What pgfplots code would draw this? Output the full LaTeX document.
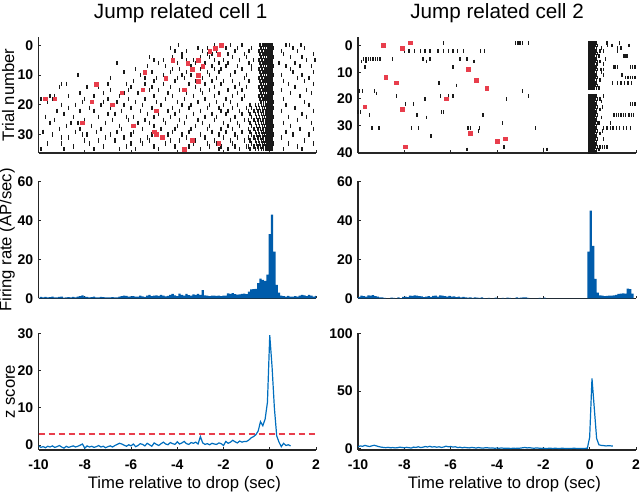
\documentclass[border=0pt]{standalone}
\usepackage{pgfplots}
\pgfplotsset{compat=1.18}
\usepackage{pgfplotstable}
\usepackage{fontspec}
\setmainfont{Liberation Sans}
\definecolor{histblue}{RGB}{0,92,171}
\definecolor{lineblue}{RGB}{0,110,190}
\definecolor{redsq}{RGB}{232,62,76}
\definecolor{spike}{RGB}{25,25,25}

\pgfplotsset{
 base/.style={scale only axis, anchor=south west, axis lines*=left, tick align=inside,
   major tick length=2.2pt, axis line style={line width=0.8pt, black!85},
   tick style={line width=0.7pt, black!85},
   tick label style={font=\fontsize{10.5}{12}\selectfont\bfseries},
   /pgf/number format/assume math mode=true,
   xmin=-10, xmax=2, xtick={-10,-8,...,2}, scaled ticks=false,
   x tick label style={yshift=-3.5pt}, y tick label style={xshift=-0.5pt}},
 leftcol/.style={base, at={(28.9pt,#1)}, width=208.1pt},
 rightcol/.style={base, at={(268.5pt,#1)}, width=208.5pt},
 spk/.style={only marks, mark=|, mark size=#1, color=spike, mark options={line width=1.05pt}},
 redm/.style={only marks, mark=square*, mark size=1.35pt, color=redsq},
}

% ---------- cell 1 raster: scattered spikes (one row per trial) ----------
\pgfplotstableread{
trial s1 s2 s3 s4 s5 s6 s7 s8 s9 s10 s11 s12 s13
0  -3.95 -2.4 -1.7 -1.2 0.7 0.85 1.35 nan nan nan nan nan nan
1  -4.3 -3.1 -2.7 -1.9 -1.4 -0.8 1.0 1.5 nan nan nan nan nan
2  -4.1 -3.6 -2.9 -2.3 -1.5 -0.9 0.5 1.2 nan nan nan nan nan
3  -3.8 -2.7 -2.5 -1.8 -1.1 0.6 1.9 nan nan nan nan nan nan
4  -5.2 -4.2 -3.8 -3.0 -2.6 -1.6 -1.0 0.9 1.4 nan nan nan nan
5  -5.0 -4.6 -3.6 -3.3 -2.4 -2.0 -1.3 -0.7 1.6 1.95 nan nan nan
6  -6.6 -4.8 -4.0 -3.2 -2.8 -2.2 -1.8 -0.9 0.4 1.1 nan nan nan
7  -5.3 -4.5 -3.4 -2.5 -1.9 -1.4 -0.8 0.7 1.3 1.8 nan nan nan
8  -5.8 -4.2 -3.9 -3.0 -2.4 -2.1 -1.2 -0.8 0.9 nan nan nan nan
9  -6.3 -5.1 -4.3 -3.6 -2.7 -2.2 -1.5 1.0 1.9 nan nan nan nan
10 -8.3 -5.6 -4.6 -3.8 -3.4 -2.6 -1.7 -1.0 0.5 1.4 nan nan nan
11 -6.9 -5.4 -4.9 -4.0 -3.7 -2.9 -2.3 -1.1 1.2 1.7 nan nan nan
12 -5.9 -5.0 -4.1 -3.2 -2.5 -2.0 -1.6 -0.9 0.6 1.5 nan nan nan
13 -9.0 -8.8 -7.0 -6.2 -5.4 -4.6 -3.5 -2.8 -2.1 -1.3 0.8 1.9 nan
14 -9.1 -7.9 -7.4 -6.0 -5.1 -4.3 -3.2 -2.4 -1.5 -1.0 1.1 nan nan
15 -6.9 -6.1 -5.2 -4.8 -3.9 -3.0 -2.6 -1.8 -1.2 0.5 1.6 nan nan
16 -8.2 -7.2 -6.3 -5.7 -4.4 -3.6 -2.9 -2.2 -1.4 0.9 1.8 nan nan
17 -9.5 -9.3 -8.7 -7.6 -6.5 -5.0 -4.2 -3.3 -2.4 -1.6 -1.1 1.3 nan
18 -9.9 -9.4 -8.0 -7.0 -6.1 -5.4 -4.5 -3.7 -2.8 -1.9 -1.2 0.6 nan
19 -9.6 -8.1 -7.2 -6.6 -5.8 -4.9 -4.0 -3.1 -2.3 -1.7 1.5 nan nan
20 -9.0 -8.4 -7.3 -6.3 -5.5 -4.7 -3.8 -3.4 -2.6 -2.0 -1.4 0.7 1.7
21 -8.7 -7.8 -6.9 -6.0 -5.1 -4.2 -3.5 -2.7 -2.2 -1.6 -1.0 1.1 nan
22 -9.2 -8.2 -7.6 -6.4 -5.6 -4.4 -3.9 -3.0 -2.1 -1.8 -1.3 0.5 1.9
23 -8.9 -7.0 -6.7 -5.3 -4.8 -4.1 -3.3 -2.5 -1.9 -1.2 1.4 nan nan
24 -9.7 -8.5 -7.4 -6.2 -5.9 -5.0 -4.3 -3.6 -2.8 -2.3 -1.5 0.8 1.6
25 -9.3 -8.0 -6.8 -6.1 -5.4 -4.6 -3.9 -3.1 -2.4 -1.7 -1.1 1.2 nan
26 -9.5 -8.6 -8.3 -7.1 -5.7 -5.2 -4.5 -3.7 -2.9 -2.0 -1.4 0.6 1.8
27 -8.8 -7.7 -6.5 -5.8 -5.0 -4.0 -3.2 -2.6 -1.8 -1.3 0.9 nan nan
28 -9.1 -8.2 -7.3 -6.4 -5.5 -4.7 -4.1 -3.4 -2.7 -2.1 -1.6 1.3 1.9
29 -9.8 -8.4 -7.5 -6.6 -5.9 -4.9 -4.2 -3.5 -2.5 -1.9 -1.2 0.7 nan
30 -9.4 -8.1 -7.9 -6.9 -6.0 -5.1 -4.4 -3.8 -3.0 -2.2 -1.5 1.0 1.7
31 -9.0 -8.7 -7.1 -6.3 -5.3 -4.6 -3.6 -2.8 -2.0 -1.4 0.5 nan nan
32 -8.0 -7.4 -6.7 -5.6 -5.2 -4.3 -3.9 -3.2 -2.4 -1.7 -1.1 1.5 nan
33 -9.6 -9.0 -7.8 -6.0 -5.5 -4.5 -3.3 -2.7 -2.3 -1.6 0.8 1.9 nan
34 -8.5 -7.2 -6.2 -5.0 -4.1 -3.5 -2.6 -2.1 -1.5 -1.0 1.2 nan nan
35 -9.9 -8.9 -7.6 -6.5 -5.8 -4.8 -3.7 -3.0 -2.2 -1.8 -1.3 0.6 1.4
}\rastA

% ---------- cell 1 raster: dense band around the drop ----------
\pgfplotstableread{
trial b1 b2 b3 b4 b5 b6 b7 b8 b9 b10 b11
0  -0.42 -0.30 -0.21 -0.14 -0.08 -0.03 0.02 0.07 0.13 nan nan
1  -0.38 -0.27 -0.18 -0.11 -0.06 -0.01 0.04 0.09 0.16 nan nan
2  -0.47 -0.33 -0.24 -0.16 -0.10 -0.04 0.01 0.06 0.11 nan nan
3  -0.42 -0.30 -0.21 -0.14 -0.08 -0.03 0.02 0.07 0.13 nan nan
4  -0.38 -0.27 -0.18 -0.11 -0.06 -0.01 0.04 0.09 0.16 nan nan
5  -0.47 -0.33 -0.24 -0.16 -0.10 -0.04 0.01 0.06 0.11 nan nan
6  -0.42 -0.30 -0.21 -0.14 -0.08 -0.03 0.02 0.07 0.13 nan nan
7  -0.38 -0.27 -0.18 -0.11 -0.06 -0.01 0.04 0.09 0.16 nan nan
8  -0.47 -0.33 -0.24 -0.16 -0.10 -0.04 0.01 0.06 0.11 nan nan
9  -0.42 -0.30 -0.21 -0.14 -0.08 -0.03 0.02 0.07 0.13 nan nan
10 -0.38 -0.27 -0.18 -0.11 -0.06 -0.01 0.04 0.09 0.16 nan nan
11 -0.47 -0.33 -0.24 -0.16 -0.10 -0.04 0.01 0.06 0.11 nan nan
12 -0.42 -0.30 -0.21 -0.14 -0.08 -0.03 0.02 0.07 0.13 nan nan
13 -0.38 -0.27 -0.18 -0.11 -0.06 -0.01 0.04 0.09 0.16 nan nan
14 -0.47 -0.33 -0.24 -0.16 -0.10 -0.04 0.01 0.06 0.11 nan nan
15 -0.42 -0.30 -0.21 -0.14 -0.08 -0.03 0.02 0.07 0.13 nan nan
16 -0.38 -0.27 -0.18 -0.11 -0.06 -0.01 0.04 0.09 0.16 nan nan
17 -0.47 -0.33 -0.24 -0.16 -0.10 -0.04 0.01 0.06 0.11 nan nan
18 -0.42 -0.30 -0.21 -0.14 -0.08 -0.03 0.02 0.07 0.13 nan nan
19 -0.38 -0.27 -0.18 -0.11 -0.06 -0.01 0.04 0.09 0.16 nan nan
20 -0.85 -0.62 -0.48 -0.36 -0.26 -0.17 -0.10 -0.04 0.02 0.07 0.13
21 -0.78 -0.57 -0.44 -0.32 -0.22 -0.14 -0.07 -0.01 0.04 0.09 0.15
22 -0.92 -0.68 -0.51 -0.39 -0.29 -0.19 -0.12 -0.06 0.00 0.05 0.11
23 -0.85 -0.62 -0.48 -0.36 -0.26 -0.17 -0.10 -0.04 0.02 0.07 0.13
24 -0.78 -0.57 -0.44 -0.32 -0.22 -0.14 -0.07 -0.01 0.04 0.09 0.15
25 -0.92 -0.68 -0.51 -0.39 -0.29 -0.19 -0.12 -0.06 0.00 0.05 0.11
26 -0.85 -0.62 -0.48 -0.36 -0.26 -0.17 -0.10 -0.04 0.02 0.07 0.13
27 -0.78 -0.57 -0.44 -0.32 -0.22 -0.14 -0.07 -0.01 0.04 0.09 0.15
28 -0.92 -0.68 -0.51 -0.39 -0.29 -0.19 -0.12 -0.06 0.00 0.05 0.11
29 -0.85 -0.62 -0.48 -0.36 -0.26 -0.17 -0.10 -0.04 0.02 0.07 0.13
30 -0.78 -0.57 -0.44 -0.32 -0.22 -0.14 -0.07 -0.01 0.04 0.09 0.15
31 -0.92 -0.68 -0.51 -0.39 -0.29 -0.19 -0.12 -0.06 0.00 0.05 0.11
32 -0.85 -0.62 -0.48 -0.36 -0.26 -0.17 -0.10 -0.04 0.02 0.07 0.13
33 -0.78 -0.57 -0.44 -0.32 -0.22 -0.14 -0.07 -0.01 0.04 0.09 0.15
34 -0.92 -0.68 -0.51 -0.39 -0.29 -0.19 -0.12 -0.06 0.00 0.05 0.11
35 -0.85 -0.62 -0.48 -0.36 -0.26 -0.17 -0.10 -0.04 0.02 0.07 0.13
}\bandA

\pgfplotstableread{
t trial
-2.1 0
-2.35 1
-2.6 2
-2.2 3
-4.2 5
-3.1 5
-3.55 6
-2.9 7
-3.35 8
-5.4 9
-3.1 10
-4.5 11
-3.1 12
-7.5 13
-3.7 15
-5.5 15
-6.4 16
-9.7 18
-9.3 18
-7.7 19
-6.8 20
-4.9 22
-8.1 26
-5.9 27
-5.0 29
-4.9 30
-4.65 31
-3.35 32
-2.2 33
-3.7 35
}\redA

% ---------- cell 2 raster ----------
\pgfplotstableread{
t trial
-6.3 -1
-3.2 -1
-3.1 -1
-3.0 -1
-2.9 -1
-2.65 -1
0.75 -1
1.3 -1
0.78 0
0.97 0
1.7 0
0.5 1
1.19 1
1.36 1
-8.0 2
-7.8 2
-7.55 2
-7.3 2
-7.1 2
-6.9 2
-6.55 2
-6.3 2
-6.1 2
-5.9 2
-5.7 2
-5.45 2
-4.7 2
-4.55 2
0.45 2
0.6 2
1.2 2
0.4 4
1.46 4
1.52 4
1.58 4
1.62 4
-9.75 5
-9.65 5
-9.55 5
-9.45 5
-9.35 5
-9.25 5
-9.15 5
-9.05 5
-8.5 5
-7.2 5
-6.9 5
-5.6 5
-5.3 5
0.68 5
-9.85 6
-9.65 6
-7.05 6
-5.0 6
0.45 6
0.35 7
0.6 7
-9.7 8
-5.9 8
1.03 8
1.1 8
1.2 8
1.76 8
1.85 8
1.95 8
0.46 9
0.52 9
0.59 9
0.5 10
0.6 11
1.4 11
1.55 12
1.65 12
1.75 12
1.85 12
1.95 12
0.45 13
-6.5 14
0.99 14
1.2 14
1.35 14
1.5 14
1.65 14
1.8 14
-5.75 15
0.4 16
-9.95 17
-9.8 17
-9.3 17
-2.9 17
-9.2 18
-8.35 19
-6.45 19
-6.1 19
-5.9 19
-2.65 19
0.6 19
-7.1 20
-3.6 20
0.45 20
0.5 21
-7.95 22
-7.6 22
1.76 22
1.85 22
1.95 22
0.55 23
0.45 24
-10.0 25
-9.9 25
-6.4 25
-6.3 25
-9.5 26
-7.45 26
-4.6 26
1.05 26
1.15 26
1.25 26
1.35 26
1.45 26
1.55 26
1.7 26
1.8 26
1.9 26
-7.05 27
0.5 27
-3.75 29
0.4 29
0.9 29
-9.4 31
-9.1 31
-7.7 31
-7.4 31
-5.25 31
-5.15 31
-4.75 31
-2.35 31
0.6 31
0.75 31
0.9 31
1.0 31
1.15 31
1.3 31
1.45 31
1.6 31
1.75 31
-4.8 32
0.55 32
0.45 33
-6.85 34
0.6 35
-3.7 38
0.35 38
0.45 38
0.55 38
0.65 38
0.75 38
-5.3 39
-2.0 39
-1.85 39
0.4 39
}\rastB

\pgfplotstableread{
trial b1 b2 b3 b4 b5 b6 b7 b8
-1 -0.05 -0.01 0.03 0.06 0.10 0.14 0.19 0.27
0  -0.03 0.01 0.04 0.08 0.12 0.17 0.23 0.33
1  -0.06 -0.02 0.02 0.05 0.09 0.15 0.21 0.30
2  -0.05 -0.01 0.03 0.06 0.10 0.14 0.19 0.27
3  -0.03 0.01 0.04 0.08 0.12 0.17 0.23 0.33
4  -0.06 -0.02 0.02 0.05 0.09 0.15 0.21 0.30
5  -0.05 -0.01 0.03 0.06 0.10 0.14 0.19 0.27
6  -0.03 0.01 0.04 0.08 0.12 0.17 0.23 0.33
7  -0.06 -0.02 0.02 0.05 0.09 0.15 0.21 0.30
8  -0.05 -0.01 0.03 0.06 0.10 0.14 0.19 0.27
9  -0.03 0.01 0.04 0.08 0.12 0.17 0.23 0.33
10 -0.06 -0.02 0.02 0.05 0.09 0.15 0.21 0.30
11 -0.05 -0.01 0.03 0.06 0.10 0.14 0.19 0.27
12 -0.03 0.01 0.04 0.08 0.12 0.17 0.23 0.33
13 -0.06 -0.02 0.02 0.05 0.09 0.15 0.21 0.30
14 -0.05 -0.01 0.03 0.06 0.10 0.14 0.19 0.27
15 -0.03 0.01 0.04 0.08 0.12 0.17 0.23 0.33
16 -0.06 -0.02 0.02 0.05 0.09 0.15 0.21 0.30
19 -0.05 -0.01 0.03 0.06 0.10 0.14 0.19 0.27
20 -0.03 0.01 0.04 0.08 0.12 0.17 0.23 0.33
21 -0.06 -0.02 0.02 0.05 0.09 0.15 0.21 0.30
22 -0.05 -0.01 0.03 0.06 0.10 0.14 0.19 0.27
23 -0.03 0.01 0.04 0.08 0.12 0.17 0.23 0.33
24 -0.06 -0.02 0.02 0.05 0.09 0.15 0.21 0.30
25 -0.05 -0.01 0.03 0.06 0.10 0.14 0.19 0.27
26 -0.03 0.01 0.04 0.08 0.12 0.17 0.23 0.33
27 -0.06 -0.02 0.02 0.05 0.09 0.15 0.21 0.30
28 -0.05 -0.01 0.03 0.06 0.10 0.14 0.19 0.27
29 -0.03 0.01 0.04 0.08 0.12 0.17 0.23 0.33
30 -0.06 -0.02 0.02 0.05 0.09 0.15 0.21 0.30
31 -0.05 -0.01 0.03 0.06 0.10 0.14 0.19 0.27
32 -0.03 0.01 0.04 0.08 0.12 0.17 0.23 0.33
33 -0.06 -0.02 0.02 0.05 0.09 0.15 0.21 0.30
34 -0.05 -0.01 0.03 0.06 0.10 0.14 0.19 0.27
35 -0.03 0.01 0.04 0.08 0.12 0.17 0.23 0.33
36 -0.06 -0.02 0.02 0.05 0.09 0.15 0.21 0.30
37 -0.05 -0.01 0.03 0.06 0.10 0.14 0.19 0.27
38 -0.03 0.01 0.04 0.08 0.12 0.17 0.23 0.33
39 -0.06 -0.02 0.02 0.05 0.09 0.15 0.21 0.30
40 -0.05 -0.01 0.03 0.06 0.10 0.14 0.19 0.27
}\bandB

\pgfplotstableread{
t trial
-8.9 0
-7.75 -1
-8.1 1
-8.8 12
-8.35 14
-5.25 9
-4.9 13
-4.45 16
-6.2 20
-9.7 23
-8.1 24
-5.15 33
-3.65 35
-4.0 36
-7.95 38
}\redB

\begin{document}
\begin{tikzpicture}
% ===== row 1: rasters =====
\begin{axis}[leftcol=256.5pt, height=87pt, ymin=-36.2, ymax=2.8,
  ytick={0,-10,-20,-30}, yticklabels={0,10,20,30}, xticklabels={}]
\pgfplotsinvokeforeach{1,...,13}{\addplot[spk=1.55pt] table[x=s#1, y expr=-\thisrow{trial}] {\rastA};}
\pgfplotsinvokeforeach{1,...,11}{\addplot[spk=1.55pt] table[x=b#1, y expr=-\thisrow{trial}] {\bandA};}
\addplot[redm] table[x=t, y expr=-\thisrow{trial}] {\redA};
\end{axis}

\begin{axis}[rightcol=256.5pt, height=87pt, ymin=-40.3, ymax=3.2,
  ytick={0,-10,-20,-30,-40}, yticklabels={0,10,20,30,40}, xticklabels={}]
\addplot[spk=1.35pt] table[x=t, y expr=-\thisrow{trial}] {\rastB};
\pgfplotsinvokeforeach{1,...,8}{\addplot[spk=1.35pt] table[x=b#1, y expr=-\thisrow{trial}] {\bandB};}
\addplot[redm] table[x=t, y expr=-\thisrow{trial}] {\redB};
\end{axis}

% ===== row 2: firing rate =====
\begin{axis}[leftcol=147.4pt, height=87.75pt, ymin=0, ymax=60, ytick={0,20,40,60}, xticklabels={}]
\addplot[fill=histblue, draw=none, const plot mark left] table[header=false, row sep=\\, x expr={-9.95+0.1*\coordindex}, y index=0] {
0.8\\0.6\\0.8\\0.5\\0.7\\0.9\\0.5\\0.6\\0.8\\1.0\\
0.4\\0.5\\0.7\\0.6\\0.8\\0.5\\0.9\\1.2\\1.6\\0.9\\
0.8\\0.6\\0.7\\0.9\\0.6\\0.5\\0.8\\0.7\\0.5\\0.6\\
0.5\\0.7\\0.6\\0.5\\0.9\\1.2\\1.5\\1.3\\0.9\\1.1\\
1.2\\0.9\\1.0\\1.4\\1.1\\0.8\\1.5\\1.8\\1.2\\1.4\\
1.6\\1.3\\1.9\\1.5\\1.1\\1.3\\1.8\\2.4\\1.6\\1.2\\
2.5\\1.8\\1.5\\2.3\\1.7\\1.4\\2.1\\1.9\\2.4\\1.8\\
4.3\\1.6\\1.4\\1.2\\1.5\\1.4\\1.3\\1.5\\1.2\\1.4\\
1.5\\2.6\\2.4\\2.7\\2.2\\2.0\\2.1\\2.3\\2.5\\2.2\\
3.5\\4.6\\4.8\\4.9\\7.8\\10.2\\9.5\\9.0\\12.2\\33\\
43\\24\\7\\3\\1.5\\1.2\\1.0\\1.3\\1.0\\0.9\\
1.2\\1.0\\1.4\\1.8\\1.6\\1.2\\1.9\\1.5\\1.0\\1.3\\
1.3\\
} \closedcycle;
\end{axis}

\begin{axis}[rightcol=147.4pt, height=87.75pt, ymin=0, ymax=60, ytick={0,20,40,60}, xticklabels={}]
\addplot[fill=histblue, draw=none, const plot mark left] table[header=false, row sep=\\, x expr={-10+0.1*\coordindex}, y index=0] {
0.8\\1.5\\1.2\\1.0\\1.6\\1.4\\1.7\\1.2\\0.9\\0.6\\
0.5\\0.3\\0\\0\\0.4\\0.3\\0\\0.6\\0.2\\0.8\\
1.0\\0.7\\1.4\\1.3\\1.6\\1.5\\1.2\\1.1\\0.7\\0.9\\
1.2\\0.8\\1.3\\1.5\\1.0\\1.6\\1.4\\1.2\\0.9\\1.3\\
1.0\\1.1\\0.7\\0.9\\0.6\\0.8\\0.5\\0.4\\0.6\\0.3\\
0.5\\0.4\\0.3\\0.5\\0.2\\0\\0.3\\0\\0\\0.4\\
0\\0\\0.3\\0\\0.4\\0.3\\0\\0\\0.5\\0.3\\
0.4\\0.6\\0.5\\0.3\\0\\0\\0\\0\\0.3\\0\\
0.4\\0\\0\\0\\0\\0\\0\\0\\0\\0\\
0\\0\\0\\0\\0\\0\\0\\0\\0\\24\\
45\\27\\10\\3\\1.6\\1.4\\1.2\\1.3\\1.5\\1.4\\
1.6\\1.9\\2.4\\2.5\\2.6\\2.5\\5.0\\4.8\\2.5\\
2.5\\
} \closedcycle;
\end{axis}

% ===== row 3: z score =====
\begin{axis}[leftcol=33.75pt, height=87.5pt, ymin=-1.3, ymax=30, ytick={0,10,20,30}]
\addplot[redsq, line width=1pt, dash pattern=on 4.5pt off 3pt] coordinates {(-10,3) (2,3)};
\addplot[lineblue, line width=0.9pt] table[header=false, row sep=\\, x expr={-10+0.1*\coordindex}, y index=0] {
-0.2\\-0.6\\-0.4\\-0.7\\-0.3\\-0.5\\-0.2\\-0.6\\-0.4\\-0.1\\
-0.5\\-0.8\\-0.3\\-0.6\\-0.4\\-0.2\\-0.5\\-0.3\\0.0\\0.3\\
-0.8\\-0.2\\-0.5\\-0.3\\-0.6\\-0.4\\-0.1\\-0.5\\-0.3\\-0.7\\
-0.4\\-0.2\\-0.5\\-0.1\\0.2\\0.5\\0.3\\0.0\\-0.3\\0.1\\
-0.2\\0.3\\-0.4\\-0.1\\0.4\\0.2\\-0.2\\0.5\\0.1\\-0.3\\
0.6\\0.2\\-0.1\\0.4\\0.8\\0.3\\0.1\\0.7\\0.4\\0.2\\
0.9\\0.3\\0.6\\1.0\\0.4\\0.2\\0.7\\0.5\\0.8\\0.3\\
2.3\\0.6\\0.2\\0.4\\0.1\\0.5\\0.3\\0.2\\0.6\\0.4\\
-0.1\\1.0\\0.5\\0.8\\1.3\\0.9\\0.6\\1.1\\0.8\\1.0\\
1.0\\1.4\\2.0\\2.3\\2.8\\3.8\\6.3\\5.2\\7.0\\11.5\\
29.5\\21\\10\\2.5\\0.8\\-0.4\\0.5\\-0.1\\0.1\\-0.2\\
};
\end{axis}

\begin{axis}[rightcol=33.75pt, height=87.5pt, ymin=-1, ymax=100, ytick={0,50,100}]
\addplot[lineblue, line width=0.9pt] table[header=false, row sep=\\, x expr={-10+0.1*\coordindex}, y index=0] {
1.8\\2.5\\2.2\\3.0\\2.4\\2.0\\2.6\\3.1\\2.5\\1.9\\
1.5\\1.2\\1.0\\1.3\\0.9\\1.1\\0.8\\1.0\\1.4\\1.2\\
0.9\\1.3\\1.0\\0.7\\1.5\\1.2\\1.8\\1.1\\1.4\\2.0\\
1.6\\2.2\\1.5\\1.9\\1.4\\1.8\\1.2\\1.6\\2.3\\1.7\\
2.0\\1.5\\1.8\\1.1\\1.4\\0.9\\1.3\\1.0\\0.8\\1.2\\
1.0\\0.7\\1.1\\0.8\\0.6\\1.0\\0.9\\0.6\\0.8\\0.5\\
0.7\\0.5\\0.8\\0.4\\0.6\\0.5\\0.3\\0.6\\0.4\\0.5\\
0.6\\0.9\\1.2\\0.8\\1.0\\0.7\\0.5\\0.8\\0.6\\0.4\\
0.5\\0.3\\0.4\\0.6\\0.3\\0.5\\0.4\\0.3\\0.5\\0.4\\
0.3\\0.4\\0.3\\0.5\\0.4\\0.3\\0.4\\0.3\\0.4\\0.5\\
10\\61\\35\\9\\3.5\\3.0\\2.8\\2.5\\2.7\\2.6\\2.4\\
};
\end{axis}

% ===== titles and labels =====
\node[font=\fontsize{15.5}{18}\selectfont, anchor=base] at (135.5pt,357pt) {Jump related cell 1};
\node[font=\fontsize{15.5}{18}\selectfont, anchor=base] at (372.8pt,357pt) {Jump related cell 2};
\node[font=\fontsize{12.5}{15}\selectfont, anchor=base] at (138.3pt,4.5pt) {Time relative to drop (sec)};
\node[font=\fontsize{12.5}{15}\selectfont, anchor=base] at (378.3pt,4.5pt) {Time relative to drop (sec)};
\node[font=\fontsize{12.5}{15}\selectfont, rotate=90, anchor=base] at (10.5pt,300pt) {Trial number};
\node[font=\fontsize{12.5}{15}\selectfont, rotate=90, anchor=base] at (8.6pt,191.25pt) {Firing rate (AP/sec)};
\node[font=\fontsize{12.5}{15}\selectfont, rotate=90, anchor=base] at (11.25pt,77.5pt) {z score};
\pgfresetboundingbox
\useasboundingbox (0,0) rectangle (480pt,371.25pt);
\end{tikzpicture}
\end{document}
